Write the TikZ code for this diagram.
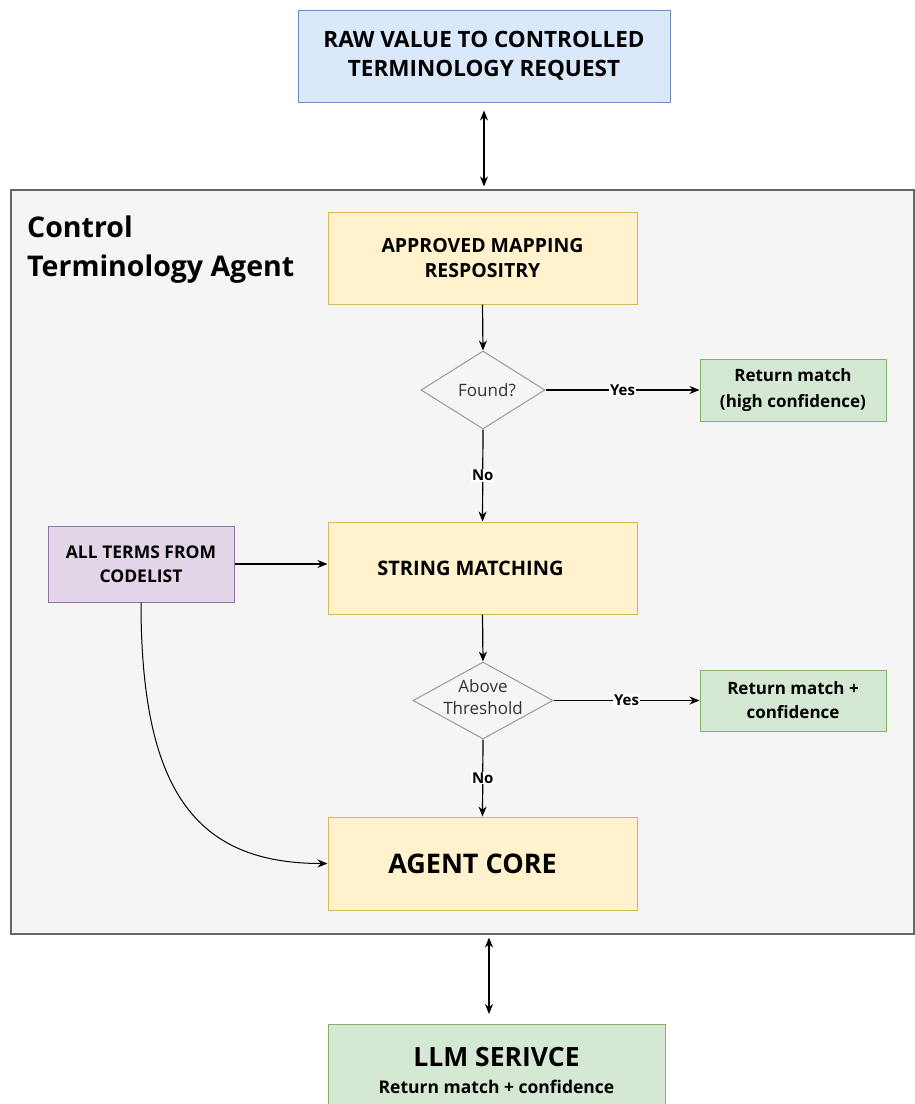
\documentclass[tikz,border=0pt]{standalone}
\usepackage{fontspec}
\setmainfont{Open Sans}
\usetikzlibrary{shapes.geometric,arrows.meta}
\definecolor{bluefill}{HTML}{DAE8FC}
\definecolor{blueline}{HTML}{6C8EBF}
\definecolor{yelfill}{HTML}{FFF2CC}
\definecolor{yelline}{HTML}{D6B656}
\definecolor{grnfill}{HTML}{D5E8D4}
\definecolor{grnline}{HTML}{82B366}
\definecolor{purfill}{HTML}{E1D5E7}
\definecolor{purline}{HTML}{9673A6}
\definecolor{bgfill}{HTML}{F5F5F5}
\definecolor{bgline}{HTML}{666666}
\definecolor{dmline}{HTML}{999999}
\definecolor{dmtext}{HTML}{333333}
\tikzset{
  box/.style={draw, rectangle, line width=1pt, align=center, inner sep=0pt, text=black},
  bluebox/.style={box, fill=bluefill, draw=blueline},
  yelbox/.style={box, fill=yelfill, draw=yelline},
  grnbox/.style={box, fill=grnfill, draw=grnline},
  purbox/.style={box, fill=purfill, draw=purline},
  dm/.style={diamond, draw=dmline, fill=bgfill, line width=1pt, inner sep=0pt},
  dmtxt/.style={align=center, inner sep=0pt, text=dmtext, font=\fontsize{17}{22}\selectfont},
  arr/.style={draw=black, line width=1.2pt, -{Stealth[length=10pt,width=8pt]}},
  dbl/.style={draw=black, line width=1.2pt, {Stealth[length=10pt,width=8pt]}-{Stealth[length=10pt,width=8pt]}},
  lab/.style={fill=white, inner sep=1pt, font=\bfseries\fontsize{15}{17}\selectfont}
}
\begin{document}
\begin{tikzpicture}[x=1pt,y=-1pt]
\useasboundingbox[fill=white] (0,0) rectangle (915,1104);
% container
\node[draw=bgline, fill=bgfill, line width=1.2pt, rectangle, minimum width=903pt, minimum height=744pt, inner sep=0pt] (cont) at (462.5,562) {};
\node[anchor=north west, align=left, inner sep=0pt, font=\bfseries\fontsize{28.5}{39}\selectfont] (title) at (27,216) {Control\\Terminology Agent};
% nodes
\node[bluebox, minimum width=372pt, minimum height=92pt, font=\bfseries\fontsize{22.5}{29}\selectfont] (req) at (484,56) {RAW VALUE TO CONTROLLED\\TERMINOLOGY REQUEST};
\node[yelbox, minimum width=309pt, minimum height=92pt, font=\bfseries\fontsize{19.5}{25}\selectfont] (appr) at (482.5,258) {APPROVED MAPPING\\RESPOSITRY};
\node[dm, minimum width=124pt, minimum height=78pt, label={[dmtxt, xshift=4pt]center:Found?}] (found) at (483,390) {};
\node[grnbox, minimum width=186pt, minimum height=62pt, font=\bfseries\fontsize{17}{26}\selectfont] (ret1) at (793,390) {Return match\\(high confidence)};
\node[yelbox, minimum width=309pt, minimum height=92pt, font=\bfseries\fontsize{20}{25}\selectfont] (str) at (482.5,568) {STRING MATCHING\rule{24pt}{0pt}};
\node[purbox, minimum width=186pt, minimum height=76pt, font=\bfseries\fontsize{17.5}{24}\selectfont] (terms) at (141,564) {ALL TERMS FROM\\CODELIST};
\node[dm, minimum width=140pt, minimum height=77pt, label={[dmtxt, yshift=3pt]center:Above\\Threshold}] (above) at (483,700.5) {};
\node[grnbox, minimum width=186pt, minimum height=61pt, font=\bfseries\fontsize{17}{24}\selectfont] (ret2) at (793,700.5) {Return match +\\confidence};
\node[yelbox, minimum width=309pt, minimum height=93pt, font=\bfseries\fontsize{27}{30}\selectfont] (core) at (482.5,863.5) {AGENT CORE\rule{20pt}{0pt}};
\node[grnbox, minimum width=337pt, minimum height=92pt, anchor=north] (llm) at (496.5,1024) {\bfseries\fontsize{26.5}{30}\selectfont LLM SERIVCE\\[12pt]\bfseries\fontsize{17.5}{22}\selectfont Return match +\ confidence};
% connectors
\draw[dbl, shorten <=8pt, shorten >=3pt] (req.south) -- (req.south |- cont.north);
\draw[arr] (appr.south) -- (found.north);
\draw[arr] (found.east) -- node[lab]{Yes} (ret1.west);
\draw[arr] (found.south) -- node[lab]{No} (str.north);
\draw[arr] (terms.east) -- (terms.east -| str.west);
\draw[arr] (str.south) -- (above.north);
\draw[arr] (above.east) -- node[lab]{Yes} (ret2.west);
\draw[arr] (above.south) -- node[lab]{No} (core.north);
\draw[arr, line width=1pt] (terms.south) .. controls (141,790) and (195,863.5) .. (core.west);
\draw[dbl, shorten <=3pt, shorten >=10pt] ([xshift=-7.5pt]llm.north |- cont.south) -- ([xshift=-7.5pt]llm.north);
\end{tikzpicture}
\end{document}
